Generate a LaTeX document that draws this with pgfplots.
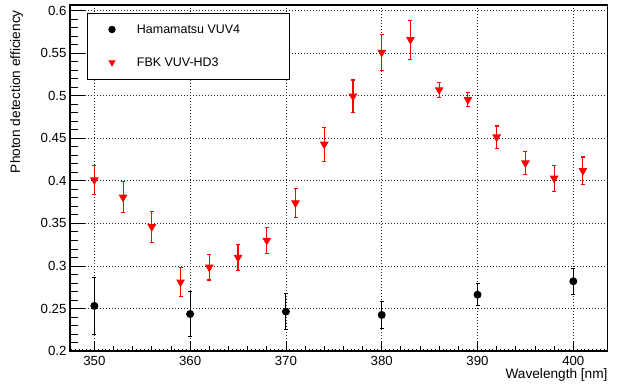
\documentclass[border=0pt]{standalone}
\usepackage{fontspec}
\setmainfont{Liberation Sans}
\usepackage{pgfplots}
\usepackage{pgfplotstable}
\pgfplotsset{compat=1.18}

\pgfplotstableread{
x y e
350 0.2530 0.034
360 0.2435 0.026
370 0.2463 0.021
380 0.2424 0.016
390 0.2662 0.013
400 0.2820 0.015
}\hama

\pgfplotstableread{
x y e
350 0.4010 0.017
353 0.3808 0.018
356 0.3460 0.018
359 0.2810 0.017
362 0.2985 0.015
365 0.3100 0.015
368 0.3300 0.015
371 0.3740 0.017
374 0.4430 0.020
377 0.4995 0.019
380 0.5510 0.021
383 0.5660 0.023
386 0.5070 0.009
389 0.4955 0.008
392 0.4515 0.013
395 0.4210 0.014
398 0.4030 0.015
401 0.4120 0.016
}\fbk

\begin{document}
\begin{tikzpicture}
\useasboundingbox (-70bp,-36bp) rectangle (551bp,351bp);
\pgfplotsset{common/.style={
  scale only axis, width=537.7bp, height=346bp,
  xmin=347.46, xmax=403.59, ymin=0.2, ymax=0.6067,
  at={(0,0)}, anchor=south west,
  tick align=inside, tick pos=left,
  tick style={black, line width=0.8bp},
  major grid style={black!85, line width=0.8bp, dash pattern=on 0.8bp off 2.2bp},
  /pgf/number format/assume math mode=true,
  tick label style={font=\fontsize{13.3}{15}\selectfont},
},
myleg/.style={legend image code/.code={%
    \path[draw=none, fill=none] (-25bp,-16.5bp) rectangle (25bp,16.5bp);
    \draw[##1] plot coordinates {(0bp,0bp)};}}
}
% y ticks, labels and horizontal grid
\begin{axis}[common,
  axis line style={draw=none},
  xtick=\empty,
  ytick={0.2,0.25,0.3,0.35,0.4,0.45,0.5,0.55,0.6},
  minor y tick num=4,
  major tick length=15bp, minor tick length=8bp,
  ymajorgrids,
  yticklabel style={/pgf/number format/fixed, /pgf/number format/precision=2},
]
\end{axis}
% tertiary x ticks
\begin{axis}[common,
  axis line style={draw=none},
  ytick=\empty,
  xtick={347.6,348.0,...,403.6},
  xticklabels={},
  major tick length=2.5bp,
]
\end{axis}
% main axis
\begin{axis}[common,
  axis line style={black, line width=1.1bp},
  ytick=\empty,
  xtick={350,360,370,380,390,400},
  minor x tick num=4,
  major tick length=10bp, minor tick length=5bp,
  xmajorgrids,
  xticklabel style={yshift=-1.5bp},
  legend cell align=left,
  legend style={at={(axis description cs:0.0316,0.9769)}, anchor=north west,
    draw=black, line width=0.9bp, inner sep=0pt, outer sep=0pt, row sep=0pt,
    column sep=0pt, nodes={inner sep=0pt}, font=\fontsize{12.5}{14}\selectfont},
]
\addplot[forget plot, black, only marks, mark=*, mark size=3.5bp, line width=0.9bp,
  error bars/.cd, y dir=both, y explicit, error mark=|,
  error mark options={black, mark size=2bp, line width=0.9bp},
  error bar style={black, line width=0.9bp}]
  table[x=x, y=y, y error=e] {\hama};
\addplot[forget plot, red, only marks, mark=triangle*, mark options={rotate=180}, mark size=4bp, line width=1.1bp,
  error bars/.cd, y dir=both, y explicit, error mark=|,
  error mark options={red, mark size=2bp, line width=1.1bp},
  error bar style={red, line width=1.1bp}]
  table[x=x, y=y, y error=e] {\fbk};
\addlegendimage{black, only marks, mark=*, mark size=3.2bp, myleg}
\addlegendentry{\makebox[152bp][l]{Hamamatsu VUV4}}
\addlegendimage{red, only marks, mark=triangle*, mark options={rotate=180}, mark size=3.3bp, myleg}
\addlegendentry{\makebox[152bp][l]{FBK VUV-HD3}}
\end{axis}
\node[rotate=90, anchor=east, inner sep=0pt, font=\fontsize{13.7}{16}\selectfont]
  at (-53.3bp,341bp) {Photon detection efficiency};
\node[anchor=east, inner sep=0pt, font=\fontsize{13.7}{16}\selectfont]
  at (537.7bp,-24bp) {Wavelength [nm]};
\end{tikzpicture}
\end{document}
